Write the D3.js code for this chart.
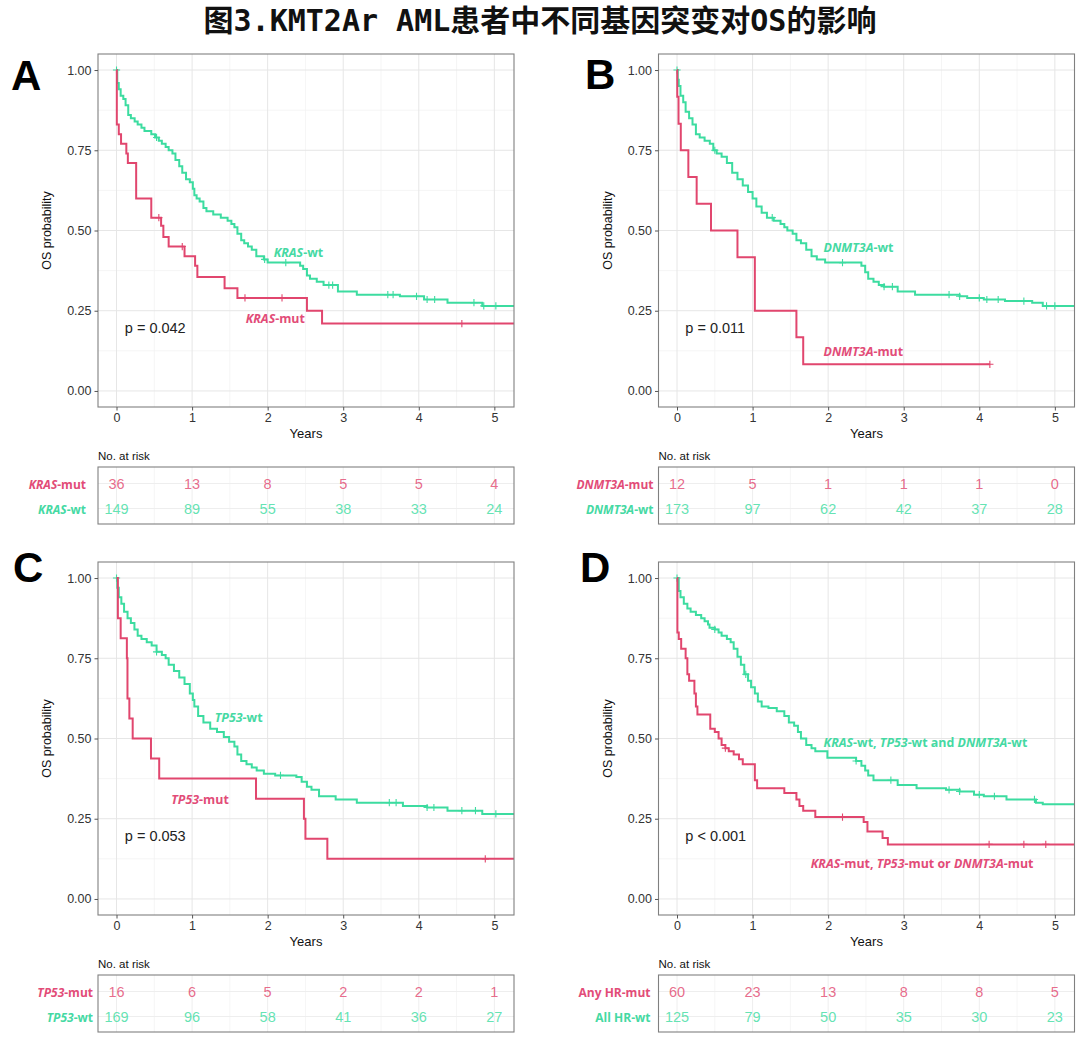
<!DOCTYPE html>
<html><head><meta charset="utf-8">
<script src="https://cdn.jsdelivr.net/npm/d3@7"></script>
<style>body{margin:0;background:#fff;} svg{display:block;}</style>
</head><body>
<svg id="chart" width="1080" height="1037"></svg>
<script>
// ---------------- data ----------------
const title = "图3.KMT2Ar AML患者中不同基因突变对OS的影响";
const panelLetters = ["A", "B", "C", "D"];
const yearTicks = [0, 1, 2, 3, 4, 5];
const probTicks = [0, 0.25, 0.5, 0.75, 1];
const pValues = ["p = 0.042", "p = 0.011", "p = 0.053", "p < 0.001"];

// Kaplan-Meier steps [years, survival]
const kmA_mut = [[0,1],[0.004,0.83],[0.03,0.80],[0.06,0.77],[0.13,0.74],[0.15,0.71],[0.26,0.60],[0.46,0.54],[0.59,0.515],[0.62,0.48],[0.69,0.45],[0.90,0.42],[1.04,0.39],[1.07,0.355],[1.43,0.32],[1.60,0.29],[2.52,0.25],[2.72,0.21]];
const kmA_wt = [[0,1],[0.01,0.96],[0.03,0.94],[0.055,0.92],[0.09,0.91],[0.12,0.89],[0.155,0.86],[0.19,0.85],[0.24,0.84],[0.28,0.83],[0.33,0.82],[0.37,0.81],[0.46,0.80],[0.51,0.79],[0.56,0.78],[0.60,0.77],[0.65,0.76],[0.69,0.75],[0.74,0.74],[0.78,0.72],[0.83,0.70],[0.87,0.68],[0.92,0.66],[0.97,0.65],[1.01,0.63],[1.03,0.61],[1.06,0.60],[1.10,0.59],[1.15,0.57],[1.19,0.56],[1.28,0.55],[1.38,0.54],[1.47,0.53],[1.52,0.52],[1.56,0.51],[1.60,0.49],[1.65,0.47],[1.69,0.46],[1.74,0.45],[1.79,0.44],[1.85,0.42],[1.95,0.41],[2.0,0.40],[2.43,0.39],[2.47,0.38],[2.52,0.36],[2.56,0.35],[2.65,0.34],[2.74,0.33],[2.93,0.31],[3.18,0.30],[3.75,0.295],[4.07,0.285],[4.38,0.275],[4.84,0.265]];
const kmB_mut = [[0,1],[0.003,0.917],[0.02,0.833],[0.05,0.75],[0.15,0.667],[0.26,0.583],[0.45,0.50],[0.80,0.417],[1.03,0.25],[1.58,0.167],[1.67,0.083]];
const kmB_wt = [[0,1],[0.01,0.97],[0.023,0.95],[0.046,0.92],[0.082,0.90],[0.114,0.87],[0.16,0.85],[0.205,0.83],[0.25,0.80],[0.30,0.79],[0.365,0.78],[0.434,0.77],[0.48,0.75],[0.525,0.74],[0.59,0.73],[0.66,0.71],[0.73,0.68],[0.80,0.66],[0.87,0.64],[0.94,0.62],[1.0,0.60],[1.05,0.575],[1.12,0.555],[1.19,0.54],[1.28,0.53],[1.37,0.52],[1.42,0.51],[1.46,0.50],[1.53,0.49],[1.58,0.47],[1.64,0.46],[1.71,0.44],[1.78,0.42],[1.85,0.41],[1.96,0.40],[2.44,0.39],[2.49,0.37],[2.53,0.35],[2.60,0.34],[2.67,0.33],[2.74,0.325],[2.92,0.31],[3.15,0.30],[3.74,0.295],[3.84,0.29],[4.06,0.285],[4.34,0.28],[4.70,0.275],[4.84,0.265]];
const kmC_mut = [[0,1],[0.018,0.875],[0.055,0.8125],[0.137,0.75],[0.145,0.625],[0.17,0.5625],[0.214,0.5],[0.456,0.4375],[0.565,0.375],[1.846,0.3125],[2.48,0.25],[2.50,0.1875],[2.79,0.125]];
const kmC_wt = [[0,1],[0.01,0.97],[0.03,0.94],[0.064,0.92],[0.10,0.895],[0.146,0.875],[0.19,0.86],[0.237,0.84],[0.28,0.82],[0.33,0.81],[0.40,0.80],[0.465,0.79],[0.53,0.77],[0.60,0.76],[0.65,0.75],[0.69,0.73],[0.76,0.71],[0.83,0.69],[0.90,0.67],[0.97,0.64],[1.01,0.62],[1.03,0.60],[1.08,0.57],[1.15,0.55],[1.24,0.53],[1.33,0.52],[1.42,0.505],[1.49,0.49],[1.56,0.475],[1.60,0.45],[1.65,0.43],[1.72,0.42],[1.79,0.41],[1.855,0.40],[1.95,0.39],[2.1,0.385],[2.38,0.38],[2.45,0.365],[2.52,0.35],[2.58,0.34],[2.68,0.32],[2.90,0.31],[3.18,0.30],[3.79,0.29],[4.11,0.285],[4.38,0.275],[4.84,0.265]];
const kmD_mut = [[0,1],[0.005,0.83],[0.023,0.81],[0.055,0.78],[0.114,0.75],[0.137,0.70],[0.16,0.68],[0.23,0.64],[0.25,0.60],[0.27,0.575],[0.44,0.53],[0.50,0.52],[0.55,0.50],[0.59,0.48],[0.64,0.47],[0.685,0.46],[0.75,0.45],[0.82,0.435],[0.87,0.42],[1.03,0.37],[1.06,0.345],[1.42,0.33],[1.58,0.31],[1.62,0.29],[1.67,0.275],[1.83,0.255],[2.47,0.24],[2.52,0.21],[2.72,0.19],[2.79,0.17]];
const kmD_wt = [[0,1],[0.023,0.96],[0.046,0.94],[0.09,0.92],[0.137,0.905],[0.18,0.895],[0.25,0.885],[0.32,0.875],[0.365,0.865],[0.41,0.855],[0.43,0.845],[0.50,0.84],[0.55,0.83],[0.59,0.82],[0.66,0.81],[0.71,0.80],[0.75,0.78],[0.80,0.755],[0.845,0.73],[0.89,0.70],[0.94,0.68],[0.98,0.66],[1.03,0.64],[1.07,0.615],[1.12,0.60],[1.21,0.595],[1.32,0.585],[1.42,0.57],[1.48,0.55],[1.55,0.54],[1.60,0.52],[1.64,0.50],[1.71,0.48],[1.78,0.47],[1.83,0.46],[1.99,0.44],[2.37,0.43],[2.44,0.415],[2.49,0.40],[2.53,0.385],[2.60,0.37],[2.92,0.355],[3.17,0.345],[3.56,0.34],[3.74,0.335],[3.93,0.325],[4.06,0.32],[4.36,0.31],[4.75,0.30],[4.84,0.295]];

// follow-up end of each curve (years)
const endA = [5.4, 5.4], endB = [4.14, 5.4], endC = [5.4, 5.4], endD = [5.4, 5.4];

// censoring times (years)
const censA_mut = [0.56, 0.87, 1.70, 2.19, 4.57];
const censA_wt = [0, 0.53, 1.96, 2.24, 2.81, 2.86, 3.59, 3.66, 3.97, 4.11, 4.21, 4.73, 4.86, 5.02];
const censB_mut = [4.14];
const censB_wt = [0, 0.50, 1.26, 2.19, 2.74, 2.85, 3.60, 3.74, 4.0, 4.10, 4.25, 4.59, 4.89, 5.0];
const censC_mut = [4.88];
const censC_wt = [0, 0.53, 2.17, 3.61, 3.70, 4.11, 4.20, 4.57, 4.75, 5.02];
const censD_mut = [0.64, 2.19, 4.13, 4.59, 4.88];
const censD_wt = [0, 0.50, 0.91, 2.37, 2.83, 3.60, 3.74, 4.0, 4.20, 4.73];

// number at risk at 0..5 years
const riskA_mut = [36, 13, 8, 5, 5, 4],  riskA_wt = [149, 89, 55, 38, 33, 24];
const riskB_mut = [12, 5, 1, 1, 1, 0],   riskB_wt = [173, 97, 62, 42, 37, 28];
const riskC_mut = [16, 6, 5, 2, 2, 1],   riskC_wt = [169, 96, 58, 41, 36, 27];
const riskD_mut = [60, 23, 13, 8, 8, 5], riskD_wt = [125, 79, 50, 35, 30, 23];

// labels: segments [text, italic]
const tableLabA = [[["KRAS", true], ["-mut", false]], [["KRAS", true], ["-wt", false]]];
const tableLabB = [[["DNMT3A", true], ["-mut", false]], [["DNMT3A", true], ["-wt", false]]];
const tableLabC = [[["TP53", true], ["-mut", false]], [["TP53", true], ["-wt", false]]];
const tableLabD = [[["Any HR-mut", false]], [["All HR-wt", false]]];
const curveLabA = [[["KRAS", true], ["-mut", false]], [["KRAS", true], ["-wt", false]]];
const curveLabB = [[["DNMT3A", true], ["-mut", false]], [["DNMT3A", true], ["-wt", false]]];
const curveLabC = [[["TP53", true], ["-mut", false]], [["TP53", true], ["-wt", false]]];
const curveLabD = [
  [["KRAS", true], ["-mut, ", false], ["TP53", true], ["-mut or ", false], ["DNMT3A", true], ["-mut", false]],
  [["KRAS", true], ["-wt, ", false], ["TP53", true], ["-wt and ", false], ["DNMT3A", true], ["-wt", false]]
];
// label anchor in data coords [years, survival] for mut, wt
const curveLabPosA = [[1.71, 0.227], [2.08, 0.433]];
const curveLabPosB = [[1.94, 0.126], [1.94, 0.45]];
const curveLabPosC = [[0.725, 0.3125], [1.30, 0.567]];
const curveLabPosD = [[1.77, 0.1125], [1.94, 0.489]];
const pPos = [0.11, 0.196];

// ---------------- styling/layout ----------------
const colMut = "#E1466E", colWt = "#3CDCA0";
const colMutTxt = "#E24C78", colWtTxt = "#45D9A3";
const W = 416, H = 353;
const layout = [
  {left: 98, top: 54, letterX: 11, letterY: 90, gap: 12},
  {left: 658.5, top: 54, letterX: 585, letterY: 89, gap: 5},
  {left: 98, top: 562, letterX: 13, letterY: 582, gap: 5},
  {left: 658.5, top: 562, letterX: 580, letterY: 582, gap: 8}
];

const panels = [
  {km: [kmA_mut, kmA_wt], end: endA, cens: [censA_mut, censA_wt], risk: [riskA_mut, riskA_wt], tlab: tableLabA, clab: curveLabA, cpos: curveLabPosA},
  {km: [kmB_mut, kmB_wt], end: endB, cens: [censB_mut, censB_wt], risk: [riskB_mut, riskB_wt], tlab: tableLabB, clab: curveLabB, cpos: curveLabPosB},
  {km: [kmC_mut, kmC_wt], end: endC, cens: [censC_mut, censC_wt], risk: [riskC_mut, riskC_wt], tlab: tableLabC, clab: curveLabC, cpos: curveLabPosC},
  {km: [kmD_mut, kmD_wt], end: endD, cens: [censD_mut, censD_wt], risk: [riskD_mut, riskD_wt], tlab: tableLabD, clab: curveLabD, cpos: curveLabPosD}
];

const svg = d3.select("#chart");
svg.append("rect").attr("width", 1080).attr("height", 1037).attr("fill", "#fff");

svg.append("text").attr("x", 540).attr("y", 20)
  .attr("text-anchor", "middle").attr("dominant-baseline", "central")
  .attr("font-family", "'DejaVu Sans Mono','Noto Sans CJK SC',sans-serif")
  .attr("font-weight", "bold").attr("font-size", 30).attr("fill", "#111")
  .text(title);

function stepValue(km, t) {
  let v = km[0][1];
  for (const [tt, s] of km) { if (tt <= t) v = s; else break; }
  return v;
}

function addSegments(textSel, segs) {
  segs.forEach(([txt, it]) => {
    textSel.append("tspan").attr("font-style", it ? "italic" : "normal").text(txt);
  });
}

const gridMinor = "#F3F3F3", gridMajor = "#E6E6E6";

panels.forEach((p, i) => {
  const L = layout[i];
  const g = svg.append("g");
  const x = d3.scaleLinear().domain([-0.245, 5.26]).range([L.left, L.left + W]);
  const y = d3.scaleLinear().domain([-0.05, 1.05]).range([L.top + H, L.top]);

  // grid
  const minorX = d3.range(0.5, 5.3, 1), minorY = [0.125, 0.375, 0.625, 0.875];
  g.selectAll(".mx").data(minorX).join("line")
    .attr("x1", d => x(d)).attr("x2", d => x(d)).attr("y1", L.top).attr("y2", L.top + H)
    .attr("stroke", gridMinor).attr("stroke-width", 0.8);
  g.selectAll(".my").data(minorY).join("line")
    .attr("y1", d => y(d)).attr("y2", d => y(d)).attr("x1", L.left).attr("x2", L.left + W)
    .attr("stroke", gridMinor).attr("stroke-width", 0.8);
  g.selectAll(".gx").data(yearTicks).join("line")
    .attr("x1", d => x(d)).attr("x2", d => x(d)).attr("y1", L.top).attr("y2", L.top + H)
    .attr("stroke", gridMajor).attr("stroke-width", 1);
  g.selectAll(".gy").data(probTicks).join("line")
    .attr("y1", d => y(d)).attr("y2", d => y(d)).attr("x1", L.left).attr("x2", L.left + W)
    .attr("stroke", gridMajor).attr("stroke-width", 1);

  // clip
  const cid = "clip" + i;
  svg.append("clipPath").attr("id", cid).append("rect")
    .attr("x", L.left).attr("y", L.top).attr("width", W).attr("height", H);
  const plot = g.append("g").attr("clip-path", `url(#${cid})`);

  const line = d3.line().x(d => x(d[0])).y(d => y(d[1])).curve(d3.curveStepAfter);
  const cols = [colMut, colWt];
  // draw wt first then mut on top
  [1, 0].forEach(k => {
    const km = p.km[k];
    const pts = km.concat([[p.end[k], km[km.length - 1][1]]]);
    plot.append("path").attr("d", line(pts)).attr("fill", "none")
      .attr("stroke", cols[k]).attr("stroke-width", 2).attr("stroke-linejoin", "miter");
    p.cens[k].forEach(t => {
      const cx = x(t), cy = y(stepValue(km, t));
      plot.append("path").attr("d", `M${cx},${cy - 3.6}V${cy + 3.6}M${cx - 3.6},${cy}H${cx + 3.6}`)
        .attr("stroke", cols[k]).attr("stroke-width", 1.1).attr("fill", "none");
    });
  });

  // border
  g.append("rect").attr("x", L.left).attr("y", L.top).attr("width", W).attr("height", H)
    .attr("fill", "none").attr("stroke", "#808080").attr("stroke-width", 1.1);

  // axes
  const ax = g.append("g").attr("transform", `translate(0,${L.top + H})`)
    .call(d3.axisBottom(x).tickValues(yearTicks).tickFormat(d3.format("d")).tickSize(3.5).tickPadding(3));
  const ay = g.append("g").attr("transform", `translate(${L.left},0)`)
    .call(d3.axisLeft(y).tickValues(probTicks).tickFormat(d3.format(".2f")).tickSize(3.5).tickPadding(3));
  [ax, ay].forEach(a => {
    a.select(".domain").remove();
    a.selectAll("line").attr("stroke", "#555");
    a.selectAll("text").attr("font-family", "'Liberation Sans',Arial,sans-serif")
      .attr("font-size", 12.5).attr("fill", "#333");
  });

  g.append("text").attr("x", L.left + W / 2).attr("y", L.top + H + 31)
    .attr("text-anchor", "middle").attr("font-family", "'Liberation Sans',Arial,sans-serif")
    .attr("font-size", 13).attr("fill", "#111").text("Years");
  g.append("text").attr("transform", `translate(${L.left - 47},${(y(0) + y(1)) / 2}) rotate(-90)`)
    .attr("text-anchor", "middle").attr("font-family", "'Liberation Sans',Arial,sans-serif")
    .attr("font-size", 12.5).attr("fill", "#111").text("OS probability");

  // p-value
  g.append("text").attr("x", x(pPos[0])).attr("y", y(pPos[1]))
    .attr("dominant-baseline", "central").attr("font-family", "'Liberation Sans',Arial,sans-serif")
    .attr("font-size", 14.5).attr("fill", "#222").text(pValues[i]);

  // curve labels
  const txtCols = [colMutTxt, colWtTxt];
  [0, 1].forEach(k => {
    const t = g.append("text").attr("x", x(p.cpos[k][0])).attr("y", y(p.cpos[k][1]))
      .attr("dominant-baseline", "central").attr("font-family", "'Open Sans',sans-serif")
      .attr("font-weight", 700).attr("font-size", 12.4).attr("fill", txtCols[k]);
    addSegments(t, p.clab[k]);
  });

  // letter
  svg.append("text").attr("x", L.letterX).attr("y", L.letterY)
    .attr("font-family", "'Liberation Sans',Arial,sans-serif").attr("font-weight", "bold")
    .attr("font-size", 42).attr("fill", "#000").text(panelLetters[i]);

  // risk table
  const tTop = L.top + H + 60, tH = 57;
  const rowY = [tTop + 16.5, tTop + 41.5];
  const tg = svg.append("g");
  tg.append("text").attr("x", L.left).attr("y", tTop - 11.5).attr("dominant-baseline", "central")
    .attr("font-family", "'Liberation Sans',Arial,sans-serif").attr("font-size", 11.5)
    .attr("fill", "#111").text("No. at risk");
  tg.selectAll(".tgx").data(d3.range(0, 5.3, 0.5)).join("line")
    .attr("x1", d => x(d)).attr("x2", d => x(d)).attr("y1", tTop).attr("y2", tTop + tH)
    .attr("stroke", d => Number.isInteger(d) ? "#EEEEEE" : "#F6F6F6");
  tg.selectAll(".tgy").data(rowY).join("line")
    .attr("y1", d => d).attr("y2", d => d).attr("x1", L.left).attr("x2", L.left + W)
    .attr("stroke", "#EEEEEE");
  tg.append("rect").attr("x", L.left).attr("y", tTop).attr("width", W).attr("height", tH)
    .attr("fill", "none").attr("stroke", "#808080").attr("stroke-width", 1.1);
  [0, 1].forEach(k => {
    tg.selectAll(".rn" + k).data(p.risk[k]).join("text")
      .attr("x", (d, j) => x(yearTicks[j])).attr("y", rowY[k])
      .attr("text-anchor", "middle").attr("dominant-baseline", "central")
      .attr("font-family", "'Liberation Sans',Arial,sans-serif").attr("font-size", 14.5)
      .attr("fill", cols[k]).attr("fill-opacity", 0.8).text(d => d);
    const lt = tg.append("text").attr("x", L.left - L.gap).attr("y", rowY[k])
      .attr("text-anchor", "end").attr("dominant-baseline", "central")
      .attr("font-family", "'Open Sans',sans-serif").attr("font-weight", 700)
      .attr("font-size", 12).attr("fill", txtCols[k]);
    addSegments(lt, p.tlab[k]);
  });
});
</script>
</body></html>
